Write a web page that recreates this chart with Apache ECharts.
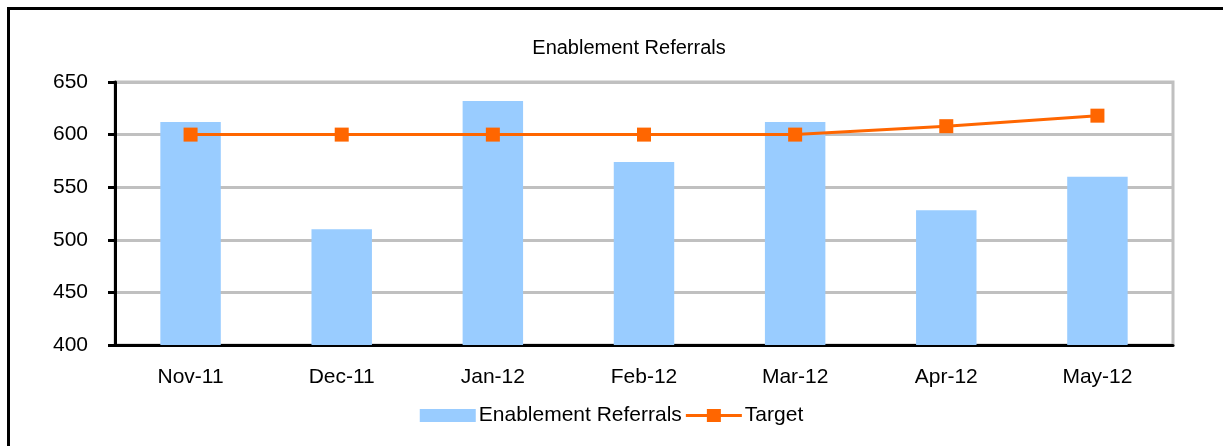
<!DOCTYPE html>
<html>
<head>
<meta charset="utf-8">
<script src="https://cdn.jsdelivr.net/npm/echarts@6/dist/echarts.min.js"></script>
<style>
  html, body { margin: 0; padding: 0; background: #fff; }
  #frame { position: absolute; left: 7px; top: 7px; width: 1216px; height: 439px;
           border-left: 3px solid #000; border-top: 3px solid #000; box-sizing: border-box; }
  #main { position: absolute; left: 0; top: 0; width: 1223px; height: 446px; }
</style>
</head>
<body>
<div id="frame"></div>
<div id="main"></div>
<script>
const months = ['Nov-11', 'Dec-11', 'Jan-12', 'Feb-12', 'Mar-12', 'Apr-12', 'May-12'];
const referrals = [612, 510, 632, 574, 612, 528, 560];
const target = [600, 600, 600, 600, 600, 608, 618];
const yTicks = [400, 450, 500, 550, 600, 650];

const font = 'Liberation Sans, Arial, sans-serif';
var chart = echarts.init(document.getElementById('main'));

chart.setOption({
  animation: false,
  title: {
    text: 'Enablement Referrals',
    left: 624, top: 33, textAlign: 'center',
    textStyle: { fontFamily: font, fontSize: 20, fontWeight: 'normal', color: '#000' }
  },
  legend: {
    left: 'center', top: 400,
    itemGap: 4,
    textStyle: { fontFamily: font, fontSize: 21, color: '#000', padding: [0, 0, 0, -2] },
    data: [
      { name: 'Enablement Referrals', icon: 'rect', itemStyle: { color: '#99ccff' } },
      {
        name: 'Target',
        icon: 'path://M0,5h21v3h-21z M21,0h14v13h-14z M35,5h21v3h-21z',
        itemStyle: { color: '#ff6600' }
      }
    ],
    itemWidth: 56, itemHeight: 13
  },
  grid: {
    left: 115, right: 50, top: 82, bottom: 101,
    show: true, borderColor: '#c0c0c0', borderWidth: 3
  },
  xAxis: {
    type: 'category',
    data: months,
    axisLine: { lineStyle: { color: '#000', width: 3 } },
    axisTick: { length: 5, lineStyle: { color: '#000', width: 3 } },
    axisLabel: { fontFamily: font, fontSize: 21, color: '#000', margin: 22 }
  },
  yAxis: {
    type: 'value',
    min: yTicks[0], max: yTicks[yTicks.length - 1], interval: 50,
    axisLine: { show: true, lineStyle: { color: '#000', width: 3 } },
    axisTick: { show: true, length: 7, lineStyle: { color: '#000', width: 3 } },
    axisLabel: { fontFamily: font, fontSize: 21, color: '#000', margin: 27 },
    splitLine: { lineStyle: { color: '#c0c0c0', width: 3 } }
  },
  series: [
    {
      name: 'Enablement Referrals',
      type: 'bar',
      data: referrals,
      barWidth: '40%',
      itemStyle: { color: '#99ccff' }
    },
    {
      name: 'Target',
      type: 'line',
      data: target,
      symbol: 'rect',
      symbolSize: 14,
      lineStyle: { color: '#ff6600', width: 3 },
      itemStyle: { color: '#ff6600' }
    }
  ]
});
</script>
</body>
</html>
